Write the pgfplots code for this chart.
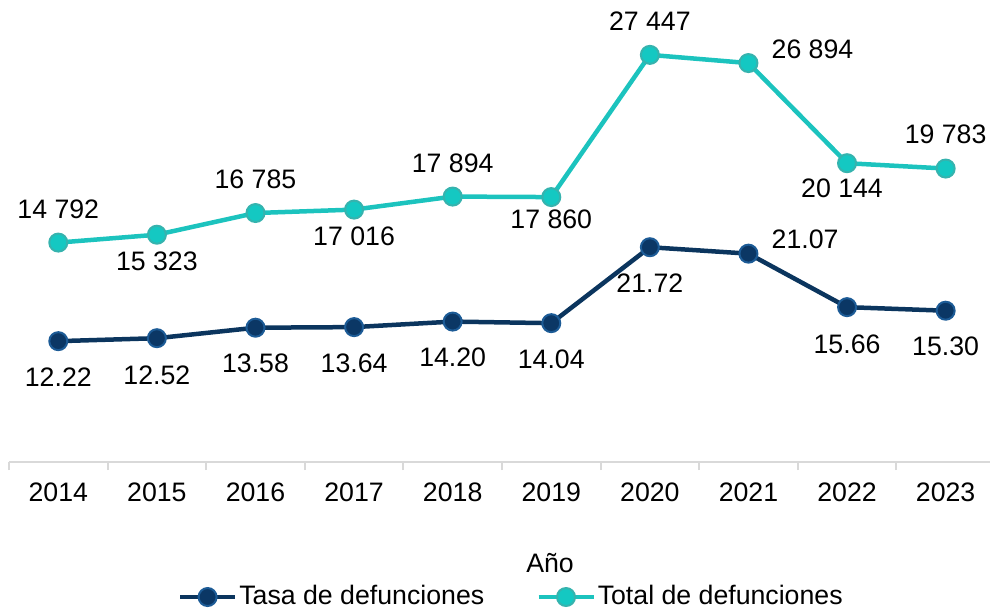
\documentclass[border=0pt]{standalone}
\usepackage{pgfplots}
\pgfplotsset{compat=1.18}
\usepackage{fontspec}
\setmainfont{Liberation Sans}
\definecolor{navyline}{HTML}{0B355E}
\definecolor{navyfill}{HTML}{0B3765}
\definecolor{navyedge}{HTML}{1C5B96}
\definecolor{tealline}{HTML}{1CC3BE}
\definecolor{tealfill}{HTML}{14C8C2}
\definecolor{tealedge}{HTML}{36B3AE}
\definecolor{axgray}{HTML}{D9D9D9}
\pgfplotsset{
  tasastyle/.style={color=navyline, line width=4.5pt, mark=*, mark size=9pt,
    mark options={fill=navyfill, draw=navyedge, line width=2pt, solid}},
  totalstyle/.style={color=tealline, line width=4.5pt, mark=*, mark size=9pt,
    mark options={fill=tealfill, draw=tealedge, line width=2pt, solid}},
  common/.style={
    scale only axis, width=981pt, height=445pt,
    xmin=-0.5, xmax=9.45, clip=false,
  },
}
\begin{document}
\fontsize{26.7}{32}\selectfont
\begin{tikzpicture}
\begin{axis}[common,
  ymin=0, ymax=45,
  axis x line*=bottom, hide y axis,
  x axis line style={draw=axgray, line width=2pt},
  xtick={0,...,9},
  xticklabels={2014,2015,2016,2017,2018,2019,2020,2021,2022,2023},
  major tick length=0pt,
  minor xtick={-0.5,0.5,...,8.5},
  minor tick length=8pt,
  tick align=outside,
  minor tick style={draw=axgray, line width=2pt},
  xticklabel style={inner sep=0pt, anchor=north, yshift=-21pt},
  xlabel={Año},
  every axis x label/.style={at={(axis description cs:0.5515,-0.227)}, anchor=center},
]
\addplot[tasastyle] coordinates {
  (0,12.22) (1,12.52) (2,13.58) (3,13.64) (4,14.20)
  (5,14.04) (6,21.72) (7,21.07) (8,15.66) (9,15.30)};
\node at (axis cs:0,12.22) [yshift=-36pt] {12.22};
\node at (axis cs:1,12.52) [yshift=-37pt] {12.52};
\node at (axis cs:2,13.58) [yshift=-36pt] {13.58};
\node at (axis cs:3,13.64) [yshift=-36pt] {13.64};
\node at (axis cs:4,14.20) [yshift=-36pt] {14.20};
\node at (axis cs:5,14.04) [yshift=-36pt] {14.04};
\node at (axis cs:6,21.72) [yshift=-36pt] {21.72};
\node at (axis cs:7,21.07) [anchor=west, inner sep=0pt, xshift=23pt, yshift=14pt] {21.07};
\node at (axis cs:8,15.66) [yshift=-37pt] {15.66};
\node at (axis cs:9,15.30) [yshift=-36pt] {15.30};
\end{axis}
\begin{axis}[common,
  ymin=0, ymax=30000,
  hide x axis, hide y axis,
  legend columns=2,
  legend image code/.code={\draw[mark repeat=2,mark phase=2,#1] plot coordinates {(0pt,0pt) (27.5pt,0pt) (55pt,0pt)};},
  legend style={draw=none, fill=none, at={(axis description cs:0.512,-0.3034)}, anchor=center,
    /tikz/every even column/.append style={column sep=50pt},
    nodes={inner sep=2pt}},
]
\addlegendimage{tasastyle}
\addlegendentry{Tasa de defunciones}
\addplot[totalstyle] coordinates {
  (0,14792) (1,15323) (2,16785) (3,17016) (4,17894)
  (5,17860) (6,27447) (7,26894) (8,20144) (9,19783)};
\addlegendentry{Total de defunciones}
\node at (axis cs:0,14792) [yshift=33pt] {14 792};
\node at (axis cs:1,15323) [yshift=-27pt] {15 323};
\node at (axis cs:2,16785) [yshift=34pt] {16 785};
\node at (axis cs:3,17016) [yshift=-27pt] {17 016};
\node at (axis cs:4,17894) [yshift=33pt] {17 894};
\node at (axis cs:5,17860) [yshift=-22pt] {17 860};
\node at (axis cs:6,27447) [yshift=34pt] {27 447};
\node at (axis cs:7,26894) [anchor=west, inner sep=0pt, xshift=23pt, yshift=14pt] {26 894};
\node at (axis cs:8,20144) [xshift=-5pt, yshift=-25pt] {20 144};
\node at (axis cs:9,19783) [yshift=34pt] {19 783};
\end{axis}
\pgfresetboundingbox
\path[use as bounding box] (-9pt,-149pt) rectangle (981pt,462pt);
\end{tikzpicture}
\end{document}
